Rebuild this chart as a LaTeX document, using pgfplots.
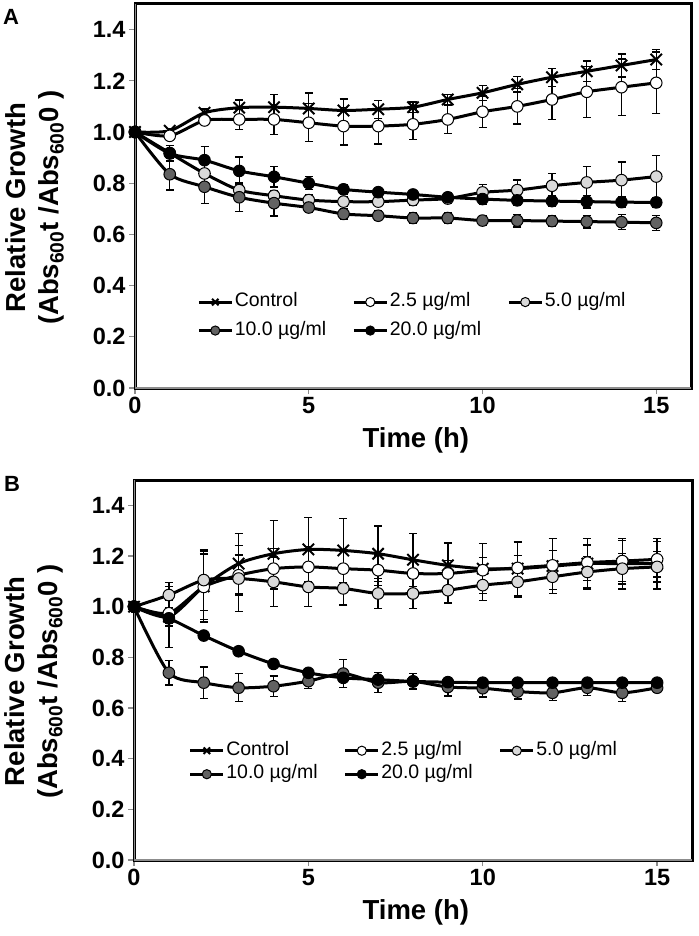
\documentclass[border=0pt]{standalone}
\usepackage{fontspec}
\setmainfont{Liberation Sans}
\usepackage{pgfplots}
\pgfplotsset{compat=1.18}
\usepackage{pgfplotstable}

\definecolor{lightg}{HTML}{D9D9D9}
\definecolor{darkg}{HTML}{626262}
\definecolor{axgray}{HTML}{8C8C8C}

% ---------- Panel A data ----------
\pgfplotstableread{
t y e
0 1.000 0
1 1.005 0.010
2 1.075 0.015
3 1.095 0.030
4 1.097 0.050
5 1.092 0.060
6 1.084 0.045
7 1.089 0.035
8 1.097 0.020
9 1.127 0.020
10 1.153 0.030
11 1.186 0.030
12 1.214 0.035
13 1.237 0.040
14 1.260 0.045
15 1.283 0.040
}\ctrlA
\pgfplotstableread{
t y e
0 1.000 0
1 0.985 0.010
2 1.045 0.010
3 1.049 0.040
4 1.049 0.058
5 1.036 0.074
6 1.023 0.074
7 1.023 0.070
8 1.030 0.060
9 1.049 0.055
10 1.079 0.062
11 1.100 0.069
12 1.127 0.078
13 1.157 0.100
14 1.175 0.110
15 1.192 0.120
}\twoA
\pgfplotstableread{
t y e
0 1.000 0
1 0.918 0.030
2 0.838 0.040
3 0.773 0.030
4 0.751 0.020
5 0.734 0.020
6 0.728 0.020
7 0.728 0.015
8 0.734 0.020
9 0.740 0.020
10 0.764 0.030
11 0.773 0.040
12 0.790 0.048
13 0.803 0.062
14 0.812 0.071
15 0.826 0.083
}\fiveA
\pgfplotstableread{
t y e
0 1.000 0
1 0.835 0.062
2 0.786 0.065
3 0.745 0.055
4 0.722 0.050
5 0.705 0.020
6 0.680 0.020
7 0.673 0.020
8 0.664 0.020
9 0.664 0.020
10 0.654 0.020
11 0.654 0.025
12 0.652 0.020
13 0.650 0.025
14 0.648 0.030
15 0.645 0.030
}\tenA
\pgfplotstableread{
t y e
0 1.000 0
1 0.916 0.030
2 0.890 0.052
3 0.848 0.054
4 0.825 0.040
5 0.800 0.025
6 0.776 0.020
7 0.765 0.015
8 0.756 0.015
9 0.745 0.020
10 0.738 0.020
11 0.733 0.020
12 0.730 0.020
13 0.728 0.025
14 0.726 0.020
15 0.725 0.020
}\twentyA

% ---------- Panel B data ----------
\pgfplotstableread{
t y e
0 1.000 0
1 0.960 0.120
2 1.080 0.140
3 1.170 0.120
4 1.209 0.130
5 1.226 0.127
6 1.222 0.127
7 1.209 0.110
8 1.185 0.105
9 1.163 0.088
10 1.150 0.098
11 1.150 0.105
12 1.160 0.108
13 1.170 0.100
14 1.170 0.100
15 1.170 0.100
}\ctrlB
\pgfplotstableread{
t y e
0 1.000 0
1 0.974 0.050
2 1.078 0.130
3 1.124 0.080
4 1.150 0.080
5 1.157 0.080
6 1.150 0.070
7 1.144 0.060
8 1.131 0.050
9 1.131 0.050
10 1.144 0.050
11 1.153 0.050
12 1.163 0.060
13 1.174 0.070
14 1.180 0.080
15 1.187 0.070
}\twoB
\pgfplotstableread{
t y e
0 1.000 0
1 1.046 0.050
2 1.105 0.120
3 1.111 0.130
4 1.098 0.098
5 1.078 0.078
6 1.072 0.065
7 1.052 0.060
8 1.052 0.060
9 1.065 0.050
10 1.085 0.060
11 1.098 0.060
12 1.118 0.050
13 1.137 0.060
14 1.150 0.060
15 1.157 0.060
}\fiveB
\pgfplotstableread{
t y e
0 1.000 0
1 0.739 0.048
2 0.700 0.062
3 0.680 0.055
4 0.686 0.040
5 0.706 0.030
6 0.736 0.055
7 0.700 0.040
8 0.705 0.030
9 0.683 0.035
10 0.678 0.035
11 0.665 0.030
12 0.660 0.030
13 0.680 0.030
14 0.660 0.035
15 0.680 0.020
}\tenB
\pgfplotstableread{
t y e
0 1.000 0
1 0.954 0.020
2 0.886 0.015
3 0.824 0.015
4 0.774 0.015
5 0.739 0.015
6 0.719 0.015
7 0.712 0.015
8 0.705 0.015
9 0.702 0.015
10 0.700 0.015
11 0.700 0.015
12 0.700 0.015
13 0.700 0.015
14 0.700 0.015
15 0.700 0.015
}\twentyB

\pgfplotsset{
  panel/.style={
    scale only axis,
    xmin=0, xmax=16, ymin=0, ymax=1.5,
    xtick={0,5,10,15},
    ytick={0,0.2,0.4,0.6,0.8,1.0,1.2,1.4},
    xtick pos=left, ytick pos=left,
    tick align=outside,
    major tick length=6pt,
    tick style={axgray, line width=1.3pt},
    axis line style={black, line width=3pt},
    /pgf/number format/assume math mode=true,
    tick label style={font=\fontsize{23.5}{25}\selectfont\bfseries},
    yticklabel style={/pgf/number format/.cd, fixed, fixed zerofill, precision=1},
    xlabel={Time (h)},
    xlabel style={font=\fontsize{27.5}{30}\selectfont\bfseries,
      at={(axis description cs:0.505,0)}, anchor=center, yshift=-52pt},
    ylabel={Relative Growth\\(Abs\textsubscript{600}t /Abs\textsubscript{600}0 )},
    ylabel style={font=\fontsize{27.5}{33}\selectfont\bfseries, align=center,
      at={(axis description cs:-0.1205,0.47)}, anchor=south},
    legend columns=3,
    legend cell align=left,
    legend style={draw=none, fill=none, font=\fontsize{19.5}{22}\selectfont,
      nodes={inner sep=1.5pt, text height=14pt, text depth=4.5pt},
      column sep=0pt},
    legend image code/.code={%
      \draw[mark repeat=2,mark phase=2,#1, mark size=4.6pt]
        plot coordinates {(0pt,0pt) (16.5pt,0pt) (33pt,0pt)};},
    error bars/y dir=both,
    error bars/y explicit,
    error bars/error bar style={line width=1.3pt, black, solid},
    error bars/error mark options={rotate=90, line width=1.3pt, mark size=4pt, black},
  },
  ctrl/.style={black, line width=3pt, smooth, tension=0.45, mark=x, mark size=8pt,
    mark options={line width=2pt, solid}},
  circ/.style={black, line width=3pt, smooth, tension=0.45, mark=*, mark size=5.8pt,
    mark options={line width=1pt, draw=black, fill=#1, solid}},
}
\newcommand{\lt}[1]{\makebox[116pt][l]{#1}}

\begin{document}
\begin{tikzpicture}
\path[use as bounding box] (0pt,0pt) rectangle (698pt,-936pt);

% ===== Panel A =====
\begin{axis}[panel, at={(135pt,-388pt)}, anchor=south west,
  width=556pt, height=384pt,
  legend style={at={(axis cs:1.70,0.28)}, anchor=west, row sep=7pt}]
\addplot[ctrl] table[x=t, y=y, y error=e] {\ctrlA};
\addplot[circ=white] table[x=t, y=y, y error=e] {\twoA};
\addplot[circ=lightg] table[x=t, y=y, y error=e] {\fiveA};
\addplot[circ=darkg] table[x=t, y=y, y error=e] {\tenA};
\addplot[circ=black] table[x=t, y=y, y error=e] {\twentyA};
\legend{\lt{Control},\lt{2.5 µg/ml},\lt{5.0 µg/ml},\lt{10.0 µg/ml},\lt{20.0 µg/ml}}
\draw[axgray, line width=1.5pt] (rel axis cs:0,0) -- (rel axis cs:0,1);
\draw[axgray, line width=1.5pt] (rel axis cs:0,0) -- (rel axis cs:1,0);
\end{axis}

% ===== Panel B =====
\begin{axis}[panel, at={(134pt,-860pt)}, anchor=south west,
  width=558pt, height=380pt,
  legend style={at={(axis cs:1.48,0.385)}, anchor=west, row sep=2pt}]
\addplot[ctrl] table[x=t, y=y, y error=e] {\ctrlB};
\addplot[circ=white] table[x=t, y=y, y error=e] {\twoB};
\addplot[circ=lightg] table[x=t, y=y, y error=e] {\fiveB};
\addplot[circ=darkg] table[x=t, y=y, y error=e] {\tenB};
\addplot[circ=black] table[x=t, y=y, y error=e] {\twentyB};
\legend{\lt{Control},\lt{2.5 µg/ml},\lt{5.0 µg/ml},\lt{10.0 µg/ml},\lt{20.0 µg/ml}}
\draw[axgray, line width=1.5pt] (rel axis cs:0,0) -- (rel axis cs:0,1);
\draw[axgray, line width=1.5pt] (rel axis cs:0,0) -- (rel axis cs:1,0);
\end{axis}

\node[font=\fontsize{22}{22}\selectfont\bfseries] at (11pt,-17pt) {A};
\node[font=\fontsize{22}{22}\selectfont\bfseries] at (12pt,-484pt) {B};
\end{tikzpicture}
\end{document}
